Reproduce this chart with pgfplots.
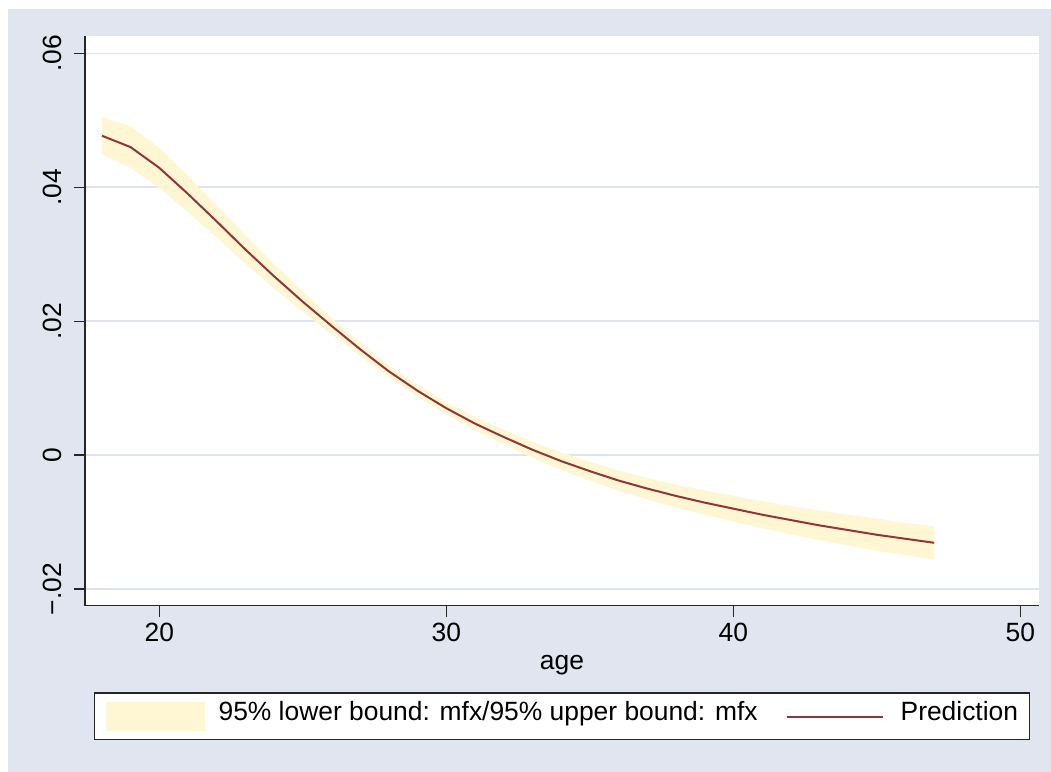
\documentclass[border=0pt]{standalone}
\usepackage{pgfplots}
\pgfplotsset{compat=1.18}
\usepackage{pgfplotstable}
\usepackage{fontspec}
\setmainfont{Liberation Sans}
\definecolor{bgblue}{RGB}{224,229,240}
\definecolor{gridc}{RGB}{222,228,240}
\definecolor{band}{RGB}{255,246,211}
\definecolor{predc}{RGB}{144,53,59}
\pgfplotstableread{
age pred
18 0.0477
19 0.0460
20 0.0429
21 0.0390
22 0.0349
23 0.0307
24 0.0267
25 0.0229
26 0.0193
27 0.0158
28 0.0125
29 0.0096
30 0.0070
31 0.0047
32 0.0027
33 0.0008
34 -0.0009
35 -0.0024
36 -0.0038
37 -0.0050
38 -0.0061
39 -0.0071
40 -0.0080
41 -0.0089
42 -0.0097
43 -0.0105
44 -0.0112
45 -0.0119
46 -0.0125
47 -0.0131
}\predtable
\begin{document}
\begin{tikzpicture}[font=\fontsize{19.8}{23.8}\selectfont]
% page and outer region (1px = 0.75pt)
\fill[white] (0,0) rectangle (788.25pt,579pt);
\fill[bgblue] (6pt,-12pt) rectangle (800pt,572.25pt);
\begin{axis}[
  at={(63.75pt,124.7pt)}, anchor=south west,
  scale only axis,
  width=715.5pt, height=427.3pt,
  xmin=17.41, xmax=50.65,
  ymin=-0.0225, ymax=0.0626,
  scaled y ticks=false, scaled x ticks=false,
  axis background/.style={fill=white},
  axis lines=left,
  axis line style={-, line width=1pt, black!85},
  tick align=outside,
  major tick length=8.25pt,
  tick style={line width=0.9pt, black!85},
  xtick={20,30,40,50}, xticklabels={20,30,40,50},
  ytick={-0.02,0,0.02,0.04,0.06},
  yticklabels={−.02,0,.02,.04,.06},
  ymajorgrids,
  grid style={gridc, line width=1.2pt},
  xticklabel style={anchor=base},
  xticklabel shift=18.5pt,
  yticklabel style={rotate=90, anchor=base},
  yticklabel shift=9pt,
  xlabel={age},
  xlabel style={at={(axis description cs:0.5,0)}, anchor=base, yshift=-47.5pt},
  clip=false,
  legend style={at={(axis description cs:0,0)}, anchor=north west,
    xshift=6.5pt, yshift=-65pt,
    draw=black!85, line width=0.9pt, fill=white,
    inner xsep=8.5pt, inner ysep=6pt,
    nodes={inner sep=0pt, anchor=base west},
    legend columns=2,
    /tikz/every even column/.append style={column sep=21pt},
    /tikz/every odd column/.append style={column sep=0pt},
  },
  legend cell align=left,
]
\addplot[fill=band, draw=none, area legend,
  legend image code/.code={\fill[band] (0pt,-8.4pt) rectangle (74.25pt,13.4pt); \path (84.75pt,2.5pt);}]
  coordinates {
  (18,0.0505) (19,0.0491) (20,0.0459) (21,0.0417) (22,0.0373) (23,0.0328)
  (24,0.0285) (25,0.0244) (26,0.0205) (27,0.0168) (28,0.0134) (29,0.0105)
  (30,0.0079) (31,0.0057) (32,0.0038) (33,0.0020) (34,0.0004) (35,-0.0010)
  (36,-0.0023) (37,-0.0034) (38,-0.0044) (39,-0.0053) (40,-0.0061) (41,-0.0069)
  (42,-0.0076) (43,-0.0083) (44,-0.0089) (45,-0.0095) (46,-0.0101) (47,-0.0106)
  (47,-0.0156) (46,-0.0149) (45,-0.0143) (44,-0.0135) (43,-0.0127) (42,-0.0118)
  (41,-0.0109) (40,-0.0099) (39,-0.0089) (38,-0.0078) (37,-0.0066) (36,-0.0053)
  (35,-0.0038) (34,-0.0022) (33,-0.0004) (32,0.0016) (31,0.0037) (30,0.0061)
  (29,0.0087) (28,0.0116) (27,0.0148) (26,0.0181) (25,0.0214) (24,0.0249)
  (23,0.0286) (22,0.0325) (21,0.0363) (20,0.0399) (19,0.0429) (18,0.0449)
  } -- cycle;
\addlegendentry{95\% lower bound: mfx/95\% upper bound: mfx}
\addplot[predc, line width=1.5pt, no marks,
  legend image code/.code={\draw[predc, line width=1.5pt] (0pt,2.5pt) -- (72pt,2.5pt); \path (84.75pt,2.5pt);}]
  table[x=age,y=pred]{\predtable};
\addlegendentry{Prediction}
\end{axis}
\pgfresetboundingbox
\useasboundingbox (0,0) rectangle (788.25pt,579pt);
\end{tikzpicture}
\end{document}
